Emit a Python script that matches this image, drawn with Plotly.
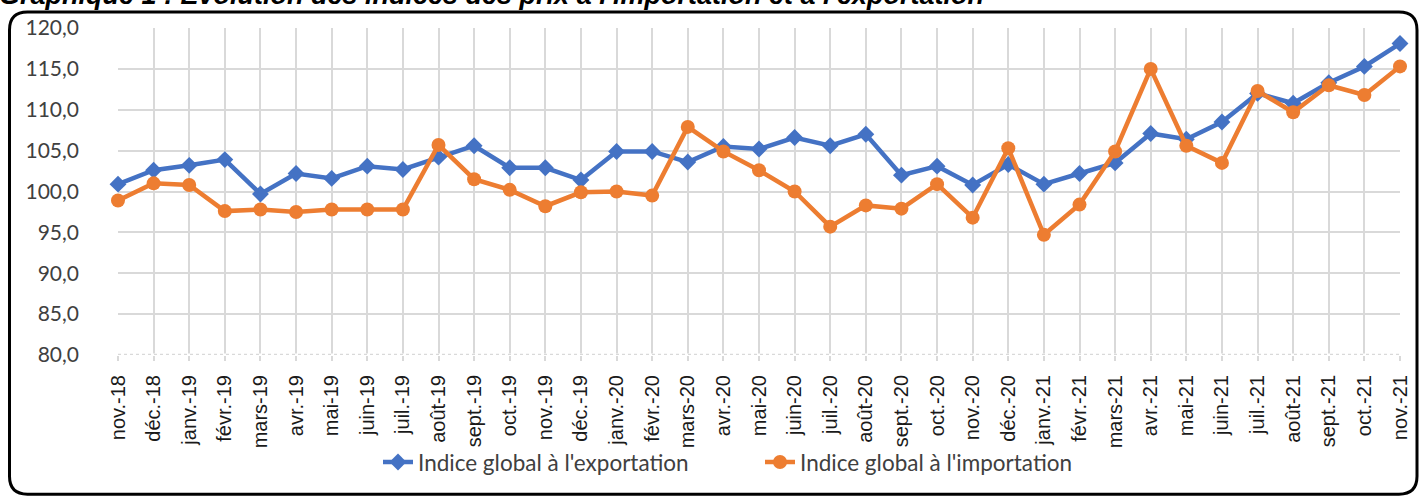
import plotly.graph_objects as go

months = ["nov.-18", "déc.-18", "janv.-19", "févr.-19", "mars-19", "avr.-19", "mai-19", "juin-19",
          "juil.-19", "août-19", "sept.-19", "oct.-19", "nov.-19", "déc.-19", "janv.-20", "févr.-20",
          "mars-20", "avr.-20", "mai-20", "juin-20", "juil.-20", "août-20", "sept.-20", "oct.-20",
          "nov.-20", "déc.-20", "janv.-21", "févr.-21", "mars-21", "avr.-21", "mai-21", "juin-21",
          "juil.-21", "août-21", "sept.-21", "oct.-21", "nov.-21"]

export_idx = [100.9, 102.6, 103.2, 103.9, 99.7, 102.2, 101.6, 103.1,
              102.7, 104.2, 105.6, 102.9, 102.9, 101.4, 104.9, 104.9,
              103.6, 105.5, 105.2, 106.6, 105.6, 107.0, 102.0, 103.1,
              100.8, 103.3, 100.9, 102.2, 103.5, 107.1, 106.4, 108.5,
              112.0, 110.8, 113.3, 115.3, 118.1]

import_idx = [98.9, 101.0, 100.8, 97.6, 97.8, 97.5, 97.8, 97.8,
              97.8, 105.7, 101.5, 100.2, 98.2, 99.9, 100.0, 99.5,
              107.9, 104.9, 102.6, 100.0, 95.7, 98.3, 97.9, 100.9,
              96.8, 105.3, 94.7, 98.4, 104.9, 115.0, 105.6, 103.5,
              112.3, 109.7, 113.0, 111.8, 115.3]

y_ticks = [80, 85, 90, 95, 100, 105, 110, 115, 120]
y_labels = ["80,0", "85,0", "90,0", "95,0", "100,0", "105,0", "110,0", "115,0", "120,0"]

title_text = "Graphique 1 : Evolution des indices des prix à l'importation et à l'exportation"
name_exp = "Indice global à l'exportation"
name_imp = "Indice global à l'importation"

BLUE = "#4472C4"
ORANGE = "#ED7D31"
GRID = "#D9D9D9"

W, H = 1424, 496
L, R, T, B = 118, 24, 28, 139
pw, ph = W - L - R, H - T - B

def px_x(p):
    return (p - L) / pw

def px_y(p):
    return 1 - (p - T) / ph

fig = go.Figure()
fig.add_trace(go.Scatter(
    x=months, y=export_idx, name=name_exp, mode="lines+markers",
    line=dict(color=BLUE, width=4.5),
    marker=dict(symbol="diamond", size=13, color=BLUE),
    cliponaxis=False,
))
fig.add_trace(go.Scatter(
    x=months, y=import_idx, name=name_imp, mode="lines+markers",
    line=dict(color=ORANGE, width=4.5),
    marker=dict(symbol="circle", size=14, color=ORANGE),
    cliponaxis=False,
))

# dotted baseline at 80
fig.add_shape(type="line", xref="x", yref="y", x0=0, x1=len(months) - 1, y0=80, y1=80,
              line=dict(color="white", width=3), layer="between")
fig.add_shape(type="line", xref="x", yref="y", x0=0, x1=len(months) - 1, y0=80, y1=80,
              line=dict(color=GRID, width=2.5, dash="dot"), layer="between")

# rounded frame
x0, x1 = px_x(9.5), px_x(1417)
y0, y1 = px_y(497), px_y(12)
rx, ry = 18 / pw, 18 / ph
path = (f"M {x0+rx},{y1} L {x1-rx},{y1} Q {x1},{y1} {x1},{y1-ry} "
        f"L {x1},{y0+ry} Q {x1},{y0} {x1-rx},{y0} "
        f"L {x0+rx},{y0} Q {x0},{y0} {x0},{y0+ry} "
        f"L {x0},{y1-ry} Q {x0},{y1} {x0+rx},{y1} Z")
fig.add_shape(type="path", xref="paper", yref="paper", path=path,
              line=dict(color="black", width=3), layer="above")

fig.add_annotation(text=f"<b><i>{title_text}</i></b>", xref="paper", yref="paper",
                   x=px_x(-3), y=px_y(11.5), xanchor="left", yanchor="bottom",
                   showarrow=False, font=dict(family="Liberation Sans", size=27, color="black"))

fig.update_layout(
    width=W, height=H,
    margin=dict(l=L, r=R, t=T, b=B),
    paper_bgcolor="white", plot_bgcolor="white",
    showlegend=True,
    legend=dict(orientation="h", x=px_x(378), y=px_y(465), xanchor="left", yanchor="middle",
                font=dict(family="Lato", size=22.5, color="#404040"),
                entrywidth=337, entrywidthmode="pixels", bgcolor="rgba(0,0,0,0)"),
    xaxis=dict(type="category", range=[0, len(months) - 1], showgrid=True, gridcolor=GRID, gridwidth=1.5,
               tickangle=-90, ticks="outside", ticklen=5, tickcolor=GRID, tickwidth=1.5,
               tickfont=dict(family="Liberation Sans", size=20, color="#1a1a1a"),
               showline=False, zeroline=False, ticklabelstandoff=6),
    yaxis=dict(range=[80, 120], tickvals=y_ticks, ticktext=y_labels, showgrid=True,
               gridcolor=GRID, gridwidth=1.5, zeroline=False, showline=False,
               tickfont=dict(family="Lato", size=21, color="#404040"), ticklabelstandoff=38),
)

fig.write_html("out.html", config={"displayModeBar": False},
               post_script="document.body.style.margin='0';")
